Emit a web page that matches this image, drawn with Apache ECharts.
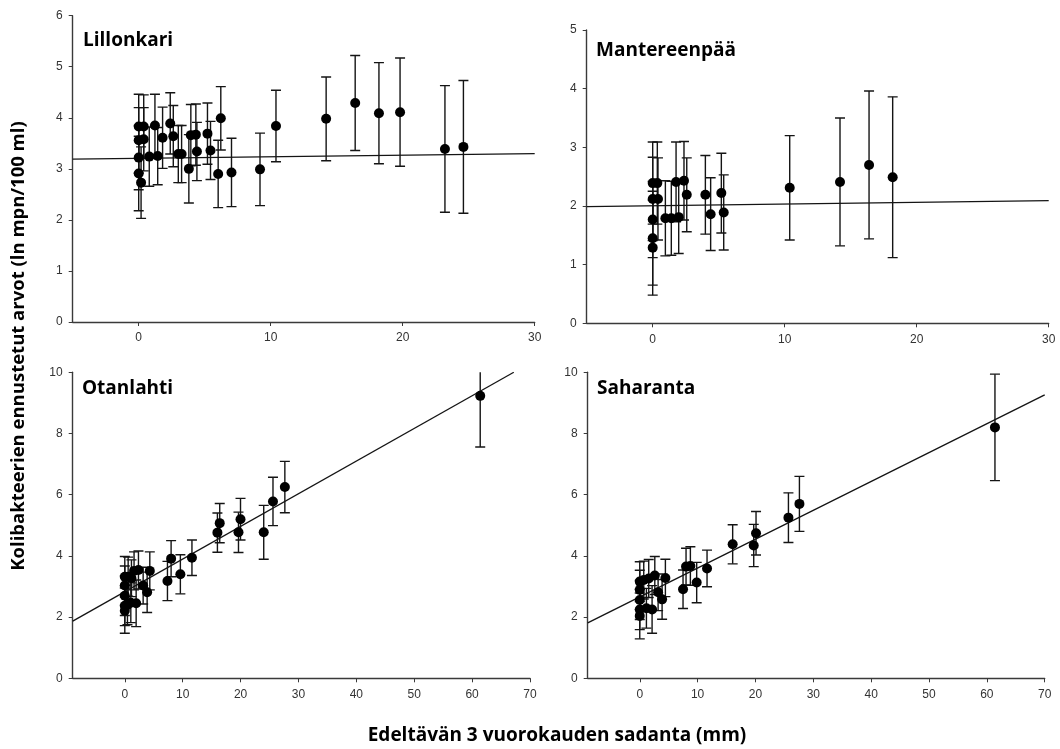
<!DOCTYPE html>
<html>
<head>
<meta charset="utf-8">
<script src="https://cdn.jsdelivr.net/npm/echarts@6/dist/echarts.min.js"></script>
<style>
  html, body { margin: 0; padding: 0; background: #fff; }
  #chart { width: 1060px; height: 749px; }
</style>
</head>
<body>
<div id="chart"></div>
<script>
// Lillonkari: rainfall (mm), predicted ln value, half-width of the interval
const lillonkariX   = [0, 0.38, 0, 0.38, 0, 0, 0.18, 0.8, 1.23, 1.44, 1.81, 2.39, 2.62, 3.0, 3.25, 3.8, 3.95, 4.33, 4.41, 5.21, 5.44, 6.22, 6.02, 7.03, 9.19, 10.4, 14.2, 16.4, 18.2, 19.8, 23.2, 24.6];
const lillonkariY   = [3.83, 3.83, 3.56, 3.58, 3.22, 2.91, 2.73, 3.24, 3.85, 3.25, 3.61, 3.89, 3.64, 3.29, 3.29, 3.0, 3.66, 3.67, 3.34, 3.69, 3.36, 3.99, 2.90, 2.93, 2.99, 3.84, 3.98, 4.29, 4.09, 4.11, 3.39, 3.43];
const lillonkariErr = [0.63, 0.62, 0.64, 0.62, 0.63, 0.73, 0.70, 0.58, 0.61, 0.56, 0.60, 0.60, 0.60, 0.56, 0.56, 0.67, 0.60, 0.60, 0.57, 0.60, 0.57, 0.62, 0.66, 0.67, 0.71, 0.70, 0.82, 0.93, 0.99, 1.06, 1.24, 1.30];
const lillonkariTrend = [[-5, 3.19], [30, 3.30]];

// Mantereenpää
const mantereenpaaX   = [0, 0.35, 0, 0.4, 0, 0, 0, 0.96, 1.41, 1.77, 1.97, 2.37, 2.58, 3.99, 4.39, 5.2, 5.38, 10.38, 14.19, 16.39, 18.18];
const mantereenpaaY   = [2.39, 2.39, 2.12, 2.12, 1.77, 1.45, 1.29, 1.79, 1.79, 2.41, 1.81, 2.43, 2.19, 2.19, 1.86, 2.22, 1.89, 2.31, 2.41, 2.70, 2.49];
const mantereenpaaErr = [0.70, 0.70, 0.71, 0.70, 0.65, 0.80, 0.81, 0.64, 0.63, 0.68, 0.62, 0.67, 0.63, 0.67, 0.62, 0.68, 0.64, 0.89, 1.09, 1.26, 1.37];
const mantereenpaaTrend = [[-5, 1.99], [30, 2.09]];

// Otanlahti
const otanlahtiX   = [61.4, 27.65, 25.6, 24.0, 19.99, 19.64, 16.4, 16.0, 11.6, 9.6, 8.0, 7.37, 4.32, 3.86, 3.17, 2.36, 1.96, 1.6, 1.15, 1.04, 0.58, 0, 0, 0, 0, 0, 0.46];
const otanlahtiY   = [9.23, 6.25, 5.78, 4.77, 5.20, 4.77, 5.07, 4.76, 3.94, 3.40, 3.91, 3.18, 3.51, 2.81, 3.03, 3.54, 2.45, 3.51, 3.27, 2.47, 3.32, 3.32, 3.03, 2.70, 2.37, 2.21, 2.40];
const otanlahtiErr = [1.67, 0.84, 0.79, 0.88, 0.68, 0.66, 0.64, 0.64, 0.58, 0.64, 0.59, 0.64, 0.62, 0.66, 0.60, 0.62, 0.76, 0.62, 0.60, 0.65, 0.64, 0.66, 0.64, 0.65, 0.65, 0.74, 0.65];
const otanlahtiTrend = [[-9, 1.87], [67.2, 10.0]];

// Saharanta
const saharantaX   = [61.4, 27.6, 25.7, 20.1, 19.7, 16.06, 11.63, 9.84, 8.75, 8.0, 7.48, 4.43, 3.86, 3.17, 2.6, 2.13, 1.55, 1.15, 0.69, 0, 0, 0, 0, 0];
const saharantaY   = [8.20, 5.70, 5.25, 4.74, 4.34, 4.38, 3.59, 3.13, 3.67, 3.65, 2.91, 3.28, 2.58, 2.81, 3.36, 2.25, 3.26, 2.29, 3.21, 3.16, 2.89, 2.56, 2.25, 2.04];
const saharantaErr = [1.74, 0.90, 0.81, 0.71, 0.69, 0.64, 0.60, 0.66, 0.63, 0.60, 0.63, 0.61, 0.65, 0.60, 0.62, 0.78, 0.62, 0.65, 0.62, 0.65, 0.64, 0.64, 0.66, 0.75];
const saharantaTrend = [[-9, 1.81], [70, 9.26]];

// Tick labels
const topXTicks = [0, 10, 20, 30];
const bottomXTicks = [0, 10, 20, 30, 40, 50, 60, 70];

const stationNames = ['Lillonkari', 'Mantereenpää', 'Otanlahti', 'Saharanta'];
const yAxisTitle = 'Kolibakteerien ennustetut arvot (ln mpn/100 ml)';
const xAxisTitle = 'Edeltävän 3 vuorokauden sadanta (mm)';

const panels = [
  { x: lillonkariX, y: lillonkariY, err: lillonkariErr, trend: lillonkariTrend,
    grid: { left: 72.7, top: 15.7, width: 462, height: 306.3 },
    xMin: -5, xMax: 30, xTicks: topXTicks, yMin: 0, yMax: 6, yInt: 1,
    title: [83, 31] },
  { x: mantereenpaaX, y: mantereenpaaY, err: mantereenpaaErr, trend: mantereenpaaTrend,
    grid: { left: 586.7, top: 30, width: 462, height: 293.3 },
    xMin: -5, xMax: 30, xTicks: topXTicks, yMin: 0, yMax: 5, yInt: 1,
    title: [596, 41] },
  { x: otanlahtiX, y: otanlahtiY, err: otanlahtiErr, trend: otanlahtiTrend,
    grid: { left: 72.7, top: 372.3, width: 457.3, height: 306 },
    xMin: -9, xMax: 70, xTicks: bottomXTicks, yMin: 0, yMax: 10, yInt: 2,
    title: [82, 379] },
  { x: saharantaX, y: saharantaY, err: saharantaErr, trend: saharantaTrend,
    grid: { left: 587.7, top: 372.3, width: 457, height: 306 },
    xMin: -9, xMax: 70, xTicks: bottomXTicks, yMin: 0, yMax: 10, yInt: 2,
    title: [597, 379] }
];

const ink = '#141414';
const axisColor = '#3a3a3a';
const tickFont = { color: '#333', fontSize: 12, fontFamily: 'Liberation Sans' };

function errorBarItem(params, api) {
  const x = api.value(0);
  const lo = api.coord([x, api.value(1)]);
  const hi = api.coord([x, api.value(2)]);
  const hw = 5;
  const style = { stroke: ink, lineWidth: 1.4 };
  return {
    type: 'group',
    children: [
      { type: 'line', shape: { x1: lo[0], y1: hi[1], x2: lo[0], y2: lo[1] }, style },
      { type: 'line', shape: { x1: hi[0] - hw, y1: hi[1], x2: hi[0] + hw, y2: hi[1] }, style },
      { type: 'line', shape: { x1: lo[0] - hw, y1: lo[1], x2: lo[0] + hw, y2: lo[1] }, style }
    ]
  };
}

const grids = [], xAxes = [], yAxes = [], series = [], titles = [];

panels.forEach((p, i) => {
  grids.push(Object.assign({ containLabel: false }, p.grid));
  xAxes.push({
    type: 'value', gridIndex: i, min: p.xMin, max: p.xMax,
    axisLine: { show: true, onZero: false, lineStyle: { color: axisColor, width: 1.4 } },
    axisTick: { show: true, customValues: p.xTicks, length: 4, lineStyle: { color: axisColor } },
    axisLabel: Object.assign({ customValues: p.xTicks, margin: 10 }, tickFont),
    splitLine: { show: false }
  });
  yAxes.push({
    type: 'value', gridIndex: i, min: p.yMin, max: p.yMax, interval: p.yInt,
    axisLine: { show: true, onZero: false, lineStyle: { color: axisColor, width: 1.4 } },
    axisTick: { show: true, length: 4, lineStyle: { color: axisColor } },
    axisLabel: Object.assign({ margin: 10 }, tickFont),
    splitLine: { show: false }
  });
  const bars = p.x.map((xv, k) => [xv, p.y[k] - p.err[k], p.y[k] + p.err[k]]);
  const pts = p.x.map((xv, k) => [xv, p.y[k]]);
  series.push({
    type: 'line', xAxisIndex: i, yAxisIndex: i, data: p.trend,
    showSymbol: false, clip: true, silent: true,
    lineStyle: { color: ink, width: 1.3 }, z: 2
  });
  series.push({
    type: 'custom', xAxisIndex: i, yAxisIndex: i, data: bars,
    renderItem: errorBarItem, clip: true, silent: true, z: 3
  });
  series.push({
    type: 'scatter', xAxisIndex: i, yAxisIndex: i, data: pts,
    symbol: 'circle', symbolSize: 10, itemStyle: { color: '#000', opacity: 1 }, silent: true, z: 4
  });
  titles.push({
    text: stationNames[i], left: p.title[0], top: p.title[1], padding: 0,
    textStyle: { fontFamily: 'Open Sans', fontWeight: 'bold', fontSize: 19, color: '#000' }
  });
});

const chart = echarts.init(document.getElementById('chart'), null, { renderer: 'canvas' });
chart.setOption({
  animation: false,
  backgroundColor: '#fff',
  title: titles,
  grid: grids,
  xAxis: xAxes,
  yAxis: yAxes,
  series: series,
  graphic: [
    {
      type: 'text', x: 19, y: 346, rotation: Math.PI / 2,
      style: { text: yAxisTitle, fill: '#000', font: 'bold 18.5px "Open Sans"', align: 'center', verticalAlign: 'middle' }
    },
    {
      type: 'text', x: 557, y: 736,
      style: { text: xAxisTitle, fill: '#000', font: 'bold 19px "Open Sans"', align: 'center', verticalAlign: 'middle' }
    }
  ]
});
</script>
</body>
</html>
